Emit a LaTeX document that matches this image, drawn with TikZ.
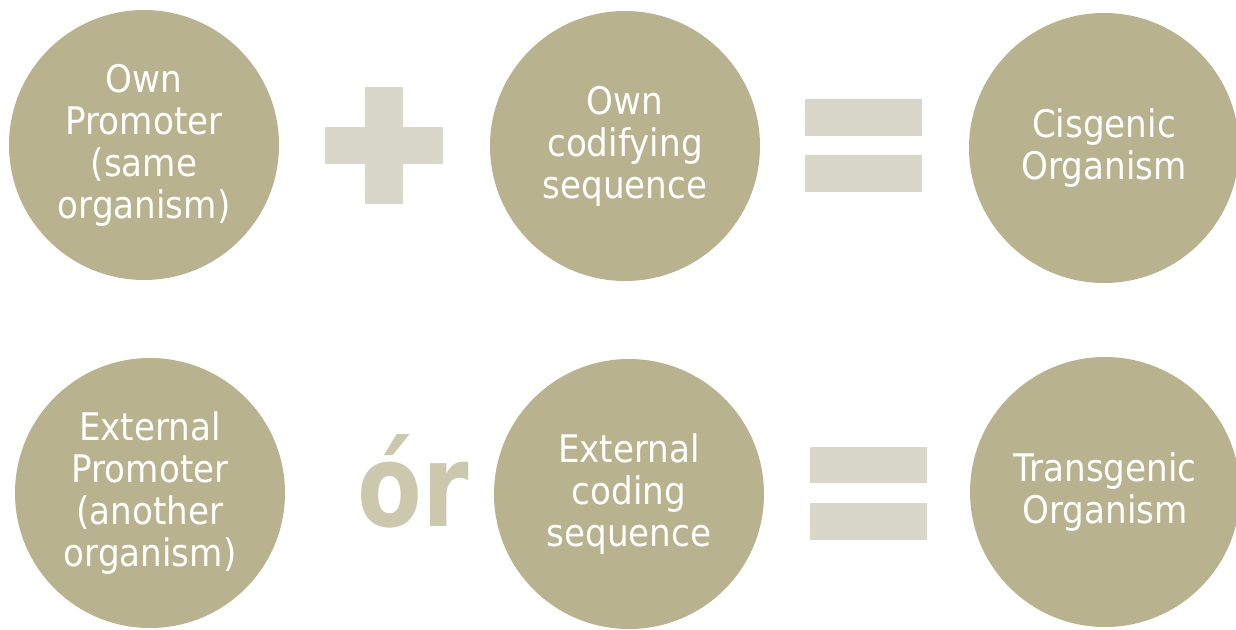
\documentclass[tikz,border=0pt]{standalone}
\usepackage{fontspec}
\setmainfont{DejaVu Sans}[FakeStretch=0.9]
\newfontfamily\orfont{DejaVu Sans Bold}[FakeStretch=0.82]
\definecolor{circfill}{HTML}{B8B28E}
\definecolor{opfill}{HTML}{D9D7CA}
\definecolor{orcol}{HTML}{CBC8AE}
\begin{document}
\begin{tikzpicture}[x=1pt,y=-1pt,
  disc/.style={circle,fill=circfill,inner sep=0pt,minimum size=270pt,text=white,align=center,font=\fontsize{38}{42}\selectfont},
  opbar/.style={fill=opfill,draw=none}]
\useasboundingbox (0,0) rectangle (1236,629);
% top row
\node[disc] (ownprom) at (144,145) {Own\\Promoter\\(same\\organism)};
\node[disc] (owncod) at (625,146) {Own\\codifying\\sequence};
\node[disc] (cis) at (1104,148) {Cisgenic\\Organism};
% bottom row
\node[disc] (extprom) at (150,493) {External\\Promoter\\(another\\organism)};
\node[disc] (extcod) at (629,494) {External\\coding\\sequence};
\node[disc] (trans) at (1105,492) {Transgenic\\Organism};
% plus
\fill[opbar] (365,87) rectangle (403,204);
\fill[opbar] (325,127) rectangle (443,164);
% equals top
\fill[opbar] (805,99) rectangle (922,136);
\fill[opbar] (805,155) rectangle (922,192);
% equals bottom
\fill[opbar] (810,447) rectangle (927,483);
\fill[opbar] (810,503) rectangle (927,540);
% or
\node[anchor=base,inner sep=0pt,text=orcol,font=\orfont\fontsize{115}{115}\selectfont] (orlabel) at (413,526) {ór};
\end{tikzpicture}
\end{document}
